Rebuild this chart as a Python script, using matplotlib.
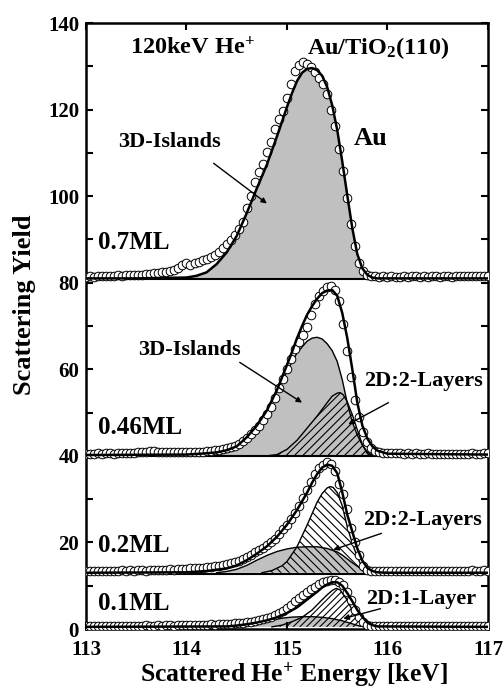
import numpy as np
import matplotlib
matplotlib.use("Agg")
import matplotlib.pyplot as plt

plt.rcParams['font.family'] = ['Liberation Serif', 'DejaVu Serif']
plt.rcParams['font.weight'] = 'bold'
plt.rcParams['mathtext.fontset'] = 'custom'
plt.rcParams['mathtext.rm'] = 'Liberation Serif:bold'
plt.rcParams['mathtext.it'] = 'Liberation Serif:bold'
plt.rcParams['mathtext.bf'] = 'Liberation Serif:bold'
plt.rcParams['hatch.linewidth'] = 0.8

# channel energies (keV)
energy = np.linspace(113.0, 117.0, 101)

# measured spectra (open circles)
y07 = [81.4, 81.5, 81.4, 81.5, 81.5, 81.6, 81.5, 81.6, 81.7, 81.6, 81.7, 81.8, 81.7, 81.9, 81.8,
       82.0, 82.1, 82.2, 82.3, 82.4, 82.5, 82.7, 83.0, 83.3, 84.0, 84.6, 84.2, 84.5, 84.9, 85.2,
       85.5, 85.9, 86.4, 87.1, 88.0, 89.0, 89.9, 91.0, 92.3, 94.1, 97.2, 100.0, 103.2, 105.6, 107.4,
       110.2, 112.4, 115.6, 117.8, 119.6, 122.6, 125.8, 128.8, 130.4, 130.9, 130.6, 129.8, 128.6, 127.4, 125.9,
       123.6, 119.8, 116.2, 110.8, 105.8, 99.6, 93.5, 88.6, 84.6, 82.6, 81.9, 81.6, 81.5, 81.4, 81.5,
       81.4, 81.5, 81.4, 81.4, 81.5, 81.4, 81.5, 81.5, 81.4, 81.5, 81.4, 81.5, 81.5, 81.4, 81.5,
       81.5, 81.4, 81.5, 81.5, 81.6, 81.5, 81.5, 81.6, 81.5, 81.6, 81.6]
y046 = [40.4, 40.5, 40.5, 40.6, 40.5, 40.6, 40.6, 40.5, 40.6, 40.7, 40.6, 40.7, 40.7, 40.8, 40.9,
        41.0, 41.1, 41.1, 41.0, 41.0, 40.9, 40.9, 40.9, 40.8, 40.9, 40.8, 40.9, 40.9, 41.0, 41.0,
        41.1, 41.2, 41.3, 41.4, 41.6, 41.8, 42.0, 42.3, 42.8, 43.4, 44.2, 45.1, 46.0, 47.0, 48.2,
        49.6, 51.4, 53.4, 55.6, 57.8, 60.0, 62.4, 64.6, 66.4, 68.0, 69.8, 72.6, 75.0, 76.9, 78.2,
        79.0, 79.2, 78.4, 75.8, 70.5, 64.2, 58.2, 53.0, 49.0, 45.6, 43.3, 41.9, 41.2, 40.9, 40.7,
        40.6, 40.7, 40.6, 40.6, 40.5, 40.6, 40.5, 40.6, 40.5, 40.5, 40.6, 40.5, 40.4, 40.5, 40.5,
        40.4, 40.5, 40.5, 40.4, 40.5, 40.5, 40.6, 40.5, 40.5, 40.6, 40.6]
y02 = [13.4, 13.5, 13.4, 13.5, 13.4, 13.5, 13.5, 13.4, 13.5, 13.6, 13.5, 13.6, 13.5, 13.6, 13.6,
       13.5, 13.6, 13.7, 13.6, 13.7, 13.7, 13.8, 13.7, 13.8, 13.9, 13.9, 14.0, 14.1, 14.2, 14.2,
       14.3, 14.4, 14.5, 14.6, 14.8, 15.0, 15.2, 15.5, 15.8, 16.2, 16.7, 17.2, 17.7, 18.2, 18.7,
       19.3, 20.0, 20.9, 22.0, 23.0, 24.1, 25.4, 26.8, 28.4, 30.2, 32.2, 34.0, 35.8, 37.1, 38.0,
       38.5, 38.1, 36.4, 33.6, 31.2, 27.8, 23.4, 20.2, 17.0, 14.6, 13.7, 13.4, 13.3, 13.3, 13.4,
       13.3, 13.4, 13.4, 13.3, 13.4, 13.4, 13.5, 13.4, 13.4, 13.5, 13.4, 13.5, 13.4, 13.5, 13.5,
       13.4, 13.5, 13.5, 13.4, 13.5, 13.5, 13.6, 13.5, 13.5, 13.6, 13.5]
y01 = [0.7, 0.8, 0.7, 0.8, 0.8, 0.7, 0.8, 0.8, 0.7, 0.8, 0.8, 0.8, 0.7, 0.8, 0.8,
       0.9, 0.8, 0.8, 0.9, 0.8, 0.9, 0.9, 0.8, 0.9, 0.9, 0.9, 1.0, 0.9, 1.0, 1.0,
       1.0, 1.1, 1.0, 1.1, 1.1, 1.2, 1.2, 1.3, 1.4, 1.5, 1.6, 1.7, 1.9, 2.1, 2.3,
       2.5, 2.8, 3.2, 3.6, 4.1, 4.8, 5.6, 6.4, 7.2, 7.9, 8.6, 9.2, 9.8, 10.3, 10.8,
       11.1, 11.3, 11.3, 10.9, 10.1, 8.6, 6.6, 4.4, 2.8, 1.6, 0.9, 0.7, 0.6, 0.7, 0.6,
       0.7, 0.6, 0.7, 0.7, 0.6, 0.7, 0.6, 0.7, 0.7, 0.6, 0.7, 0.6, 0.7, 0.7, 0.6,
       0.7, 0.7, 0.6, 0.7, 0.7, 0.6, 0.7, 0.7, 0.7, 0.6, 0.7]

# fitted components
fit07_x = [113.0, 113.5, 114.0, 114.1, 114.2, 114.3, 114.4, 114.5, 114.6, 114.7, 114.8, 114.9, 115.0,
           115.05, 115.1, 115.15, 115.2, 115.25, 115.3, 115.35, 115.4, 115.45, 115.5, 115.55, 115.6,
           115.65, 115.7, 115.75, 115.8, 115.85, 115.9, 116.0, 117.0]
fit07_y = [81.0, 81.0, 81.2, 81.6, 82.4, 84.3, 87.0, 90.8, 96.1, 101.8, 107.3, 113.8, 120.6,
           123.8, 126.6, 128.5, 129.4, 129.6, 129.1, 127.8, 125.2, 121.0, 115.3, 108.0, 100.2,
           92.6, 86.6, 83.3, 81.8, 81.2, 81.0, 81.0, 81.0]

tot046_x = [113.0, 114.0, 114.2, 114.3, 114.4, 114.5, 114.6, 114.7, 114.8, 114.9, 115.0, 115.05, 115.1,
            115.15, 115.2, 115.25, 115.3, 115.35, 115.4, 115.45, 115.5, 115.55, 115.6, 115.65, 115.7,
            115.75, 115.8, 115.85, 115.9, 116.0, 117.0]
tot046_y = [40.2, 40.3, 40.6, 40.8, 41.3, 42.2, 44.3, 47.0, 50.5, 55.2, 61.0, 64.0, 67.2,
            70.0, 72.6, 74.6, 76.3, 77.6, 78.2, 78.3, 77.0, 73.0, 67.2, 60.0, 52.3,
            47.0, 44.0, 42.2, 41.2, 40.5, 40.3]
isl046_x = [113.0, 114.0, 114.3, 114.4, 114.5, 114.6, 114.7, 114.8, 114.9, 115.0, 115.1, 115.2, 115.25,
            115.3, 115.35, 115.4, 115.45, 115.5, 115.55, 115.6, 115.65, 115.7, 115.75, 115.8, 115.85, 117.0]
isl046_y = [40.0, 40.1, 40.6, 41.2, 42.1, 44.1, 46.9, 50.4, 54.9, 59.6, 63.8, 66.5, 67.2,
            67.4, 67.0, 65.9, 64.3, 61.8, 57.6, 52.2, 47.8, 44.8, 42.5, 40.9, 40.1, 40.0]
lay046_x = [114.8, 114.9, 115.0, 115.1, 115.2, 115.3, 115.4, 115.45, 115.5, 115.53, 115.56, 115.6,
            115.65, 115.7, 115.75, 115.8, 115.85]
lay046_y = [40.0, 40.3, 41.5, 43.6, 46.4, 49.2, 52.3, 53.8, 54.5, 54.6, 54.1, 52.5,
            49.5, 46.0, 42.6, 40.5, 40.0]

tot02_x = [113.0, 114.0, 114.2, 114.4, 114.5, 114.6, 114.7, 114.8, 114.9, 115.0, 115.1, 115.2, 115.25,
           115.3, 115.35, 115.4, 115.45, 115.5, 115.55, 115.6, 115.65, 115.7, 115.75, 115.8, 115.85,
           115.9, 116.0, 117.0]
tot02_y = [13.0, 13.1, 13.4, 14.0, 14.7, 15.9, 17.4, 19.1, 21.3, 24.1, 27.5, 31.5, 33.8,
           35.8, 37.3, 38.0, 37.7, 36.0, 31.6, 26.4, 22.5, 18.6, 15.8, 14.1, 13.4,
           13.1, 13.0, 13.0]
isl02_x = [114.3, 114.4, 114.5, 114.6, 114.7, 114.8, 114.9, 115.0, 115.1, 115.2, 115.3, 115.4, 115.5,
           115.55, 115.6, 115.65, 115.7, 115.75, 115.8, 115.86]
isl02_y = [13.0, 13.3, 13.8, 14.7, 15.9, 17.0, 17.9, 18.5, 18.9, 19.0, 19.0, 18.6, 17.8,
           17.1, 16.2, 15.3, 14.5, 13.8, 13.3, 13.0]
lay02_x = [114.75, 114.85, 114.95, 115.0, 115.1, 115.2, 115.3, 115.35, 115.4, 115.43, 115.46, 115.5,
           115.55, 115.6, 115.65, 115.7, 115.75, 115.8]
lay02_y = [13.0, 13.5, 14.6, 15.6, 19.0, 24.0, 29.3, 31.3, 32.6, 32.9, 32.7, 31.5,
           28.5, 23.6, 19.8, 16.6, 14.2, 13.0]

tot01_x = [113.0, 114.4, 114.5, 114.6, 114.7, 114.8, 114.9, 115.0, 115.1, 115.2, 115.3, 115.35, 115.4,
           115.45, 115.5, 115.55, 115.6, 115.65, 115.7, 115.75, 115.8, 115.85, 115.9, 117.0]
tot01_y = [0.5, 0.6, 0.8, 1.1, 1.5, 2.0, 2.7, 3.7, 5.0, 6.8, 8.6, 9.6, 10.3,
           10.8, 10.8, 10.0, 8.3, 6.4, 4.4, 2.8, 1.5, 0.9, 0.6, 0.5]
isl01_x = [114.45, 114.55, 114.65, 114.75, 114.85, 114.95, 115.05, 115.15, 115.25, 115.35, 115.45,
           115.55, 115.65, 115.72, 115.78]
isl01_y = [0.5, 0.7, 1.1, 1.6, 2.1, 2.5, 2.75, 2.85, 2.85, 2.7, 2.4, 1.9, 1.2, 0.7, 0.5]
lay01_x = [114.85, 114.95, 115.05, 115.15, 115.25, 115.33, 115.4, 115.45, 115.49, 115.53, 115.59,
           115.66, 115.73, 115.79, 115.83]
lay01_y = [0.5, 0.9, 1.7, 2.7, 4.4, 6.3, 7.9, 8.9, 9.4, 9.0, 7.0, 3.9, 2.0, 0.7, 0.5]

baselines = [81.0, 40.0, 13.0, 0.5]
separators = [80.8, 39.9, 12.7]
coverages = ["0.7ML", "0.46ML", "0.2ML", "0.1ML"]
xticks = [113, 114, 115, 116, 117]
yticks = [0, 20, 40, 60, 80, 100, 120, 140]

GRAY = '#c0c0c0'

fig = plt.figure(figsize=(5.04, 6.91), dpi=100)
ax = fig.add_axes([0.1706, 0.0897, 0.7976, 0.877])

def gray_fill(x, y, b, lw=1.0):
    ax.fill_between(x, b, y, facecolor=GRAY, edgecolor='none', linewidth=0, zorder=1)
    if lw:
        ax.plot(x, y, color='black', lw=lw, zorder=3)

def hatch_fill(x, y, b, hatch):
    ax.fill_between(x, b, y, facecolor='none', edgecolor='black', hatch=hatch,
                    linewidth=0, zorder=2)
    ax.plot(x, y, color='black', lw=1.0, zorder=3)

# panel 0.7ML
gray_fill(fit07_x, fit07_y, baselines[0], lw=0)
# panel 0.46ML
gray_fill(isl046_x, isl046_y, baselines[1])
hatch_fill(lay046_x, lay046_y, baselines[1], '////')
# panel 0.2ML
gray_fill(isl02_x, isl02_y, baselines[2])
hatch_fill(lay02_x, lay02_y, baselines[2], '\\\\\\\\')
# panel 0.1ML
gray_fill(isl01_x, isl01_y, baselines[3])
hatch_fill(lay01_x, lay01_y, baselines[3], '/////')

for s in separators:
    ax.axhline(s, color='black', lw=1.5, zorder=2.5)

for y in (y07, y046, y02, y01):
    ax.plot(energy, y, 'o', ms=6.2, mfc='white', mec='black', mew=0.7, zorder=4)

for fx, fy in ((fit07_x, fit07_y), (tot046_x, tot046_y), (tot02_x, tot02_y), (tot01_x, tot01_y)):
    ax.plot(fx, fy, color='black', lw=1.8, zorder=5)

ax.set_xlim(113, 117)
ax.set_ylim(0, 140)
ax.set_xticks(xticks)
ax.set_yticks(yticks)
ax.set_yticks(np.arange(10, 140, 20), minor=True)
ax.tick_params(axis='both', which='both', direction='in', width=1.5, labelsize=15)
ax.tick_params(axis='y', which='both', right=True, length=5, pad=5)
ax.tick_params(axis='x', which='major', top=True, length=5, pad=8)
for lab in ax.get_xticklabels() + ax.get_yticklabels():
    lab.set_fontweight('bold')
for sp in ax.spines.values():
    sp.set_linewidth(1.8)

ax.set_xlabel('Scattered He$^{+}$ Energy [keV]', fontsize=18.5, fontweight='bold')
ax.set_ylabel('Scattering Yield', fontsize=19, fontweight='bold')
ax.xaxis.set_label_coords(0.517, -0.052)
ax.yaxis.set_label_coords(-0.124, 0.535)

tk = dict(fontweight='bold', ha='center', va='center')
ax.text(114.06, 134.2, '120keV He$^{+}$', fontsize=17.5, **tk)
ax.text(115.91, 134.2, 'Au/TiO$_2$(110)', fontsize=17.5, **tk)
ax.text(115.83, 113.4, 'Au', fontsize=19, **tk)
ax.text(113.83, 112.6, '3D-Islands', fontsize=16, **tk)
ax.text(114.03, 64.4, '3D-Islands', fontsize=16, **tk)
ax.text(116.36, 57.3, '2D:2-Layers', fontsize=16, **tk)
ax.text(116.35, 25.2, '2D:2-Layers', fontsize=16, **tk)
ax.text(116.34, 7.0, '2D:1-Layer', fontsize=16, **tk)
lab_y = [89.3, 46.5, 19.4, 5.9]
for name, yy in zip(coverages, lab_y):
    ax.text(113.12, yy, name, fontsize=18, fontweight='bold', ha='left', va='center')

arr = dict(arrowstyle='-|>', color='black', lw=1.0, mutation_scale=8, shrinkA=0, shrinkB=0)
ax.annotate('', xy=(114.80, 98.3), xytext=(114.27, 107.6), arrowprops=arr, zorder=6)
ax.annotate('', xy=(115.15, 52.3), xytext=(114.53, 61.6), arrowprops=arr, zorder=6)
ax.annotate('', xy=(115.61, 47.3), xytext=(116.01, 52.3), arrowprops=arr, zorder=6)
ax.annotate('', xy=(115.46, 18.3), xytext=(115.94, 22.1), arrowprops=arr, zorder=6)
ax.annotate('', xy=(115.56, 2.4), xytext=(115.93, 4.7), arrowprops=arr, zorder=6)

fig.savefig('out.png', dpi=100)
